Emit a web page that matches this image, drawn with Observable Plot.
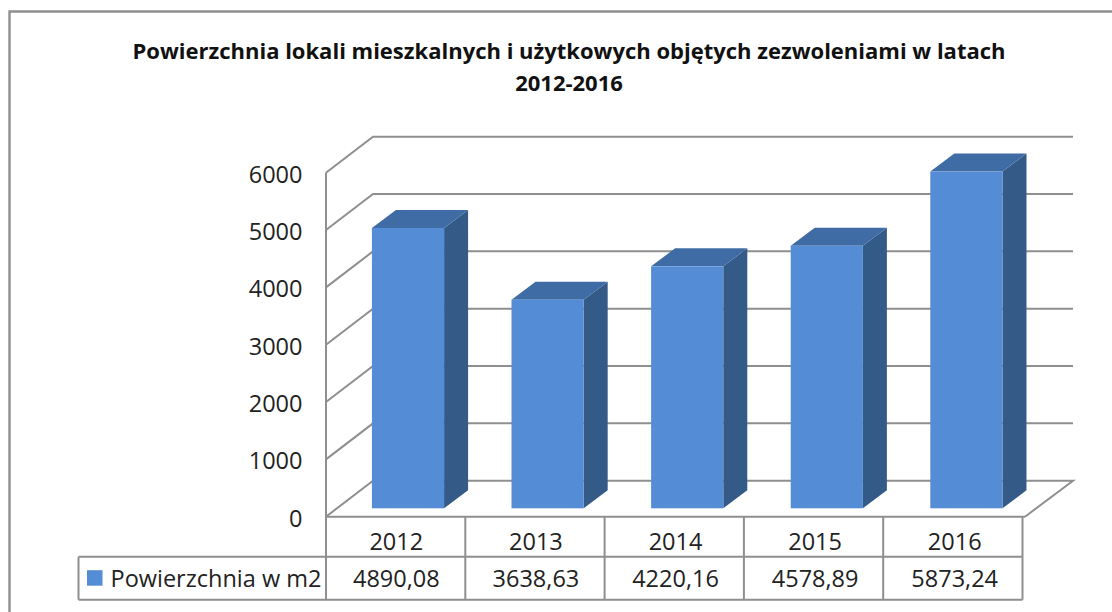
<!DOCTYPE html>
<html><head><meta charset="utf-8">
<script src="https://cdn.jsdelivr.net/npm/d3@7"></script>
<script src="https://cdn.jsdelivr.net/npm/@observablehq/plot@0.6"></script>
<style>
html,body{margin:0;padding:0;background:#fff;}
#wrap{position:relative;width:1112px;height:612px;overflow:hidden;font-family:"Open Sans",sans-serif;}
#title{position:absolute;left:0;top:34px;width:1138px;text-align:center;font-weight:700;font-size:22px;line-height:32px;color:#111;}
#chart svg{display:block;}
</style></head><body>
<div id="wrap">
<div id="chart"></div>
<div id="title">Powierzchnia lokali mieszkalnych i użytkowych objętych zezwoleniami w latach<br>2012-2016</div>
</div>
<script>
const years = ["2012","2013","2014","2015","2016"];
const values = [4890.08,3638.63,4220.16,4578.89,5873.24];
const yTicks = [0,1000,2000,3000,4000,5000,6000];
const seriesName = "Powierzchnia w m2";
const rows = years.map((year,i)=>({year,value:values[i]}));
const comma = v => v.toFixed(2).replace(".",",");

const GRID = "#8f8f8f", FRONT = "#558cd6", TOP = "#3f6ca5", SIDE = "#345a88";
const wall = {dx:47, dy:-36}, bar = {dx:12.2, dy:-8.4, ddx:24, ddy:-18};

function path(g, d, attrs){
  const p = g.append("path").attr("d", d);
  for (const k in attrs) p.attr(k, attrs[k]);
}
const line = {fill:"none", stroke:GRID, "stroke-width":2};

function wallsMark(index, {x, y}, values, dims){
  const g = d3.create("svg:g");
  const x0 = dims.marginLeft, x1 = dims.width - dims.marginRight;
  const back = 1073;
  for (const t of yTicks){
    const py = y(t);
    path(g, `M${x0},${py}L${x0+wall.dx},${py+wall.dy}L${back},${py+wall.dy}` + (t===0 ? `L${x1+1},${py}` : ""), line);
  }
  path(g, `M${x0},${y(6000)}V${y(0)}H${x1+1}`, line);
  return g.node();
}
function cubeMark(index, {x, y}){
  const g = d3.create("svg:g");
  const w = x.bandwidth();
  for (const r of rows){
    const l = x(r.year)+bar.dx, R = l+w, t = y(r.value)+bar.dy, b = y(0)+bar.dy;
    path(g, `M${R},${t}L${R+bar.ddx},${t+bar.ddy}V${b+bar.ddy}L${R},${b}Z`, {fill:SIDE});
    path(g, `M${l},${t}L${l+bar.ddx},${t+bar.ddy}H${R+bar.ddx}L${R},${t}Z`, {fill:TOP});
  }
  return g.node();
}
function tableMark(index, {x, y}, values, dims){
  const g = d3.create("svg:g");
  const x0 = dims.marginLeft, step = 139.3, top = y(0), mid = top+40, bot = top+83, leg = 78.5;
  for (let i=0;i<=years.length;i++){
    path(g, `M${x0+i*step},${top}V${bot}`, line);
  }
  path(g, `M${leg},${mid}H${x0+years.length*step}M${leg},${bot}H${x0+years.length*step}M${leg},${mid}V${bot}`, line);
  g.append("rect").attr("x",87).attr("y",mid+13.5).attr("width",15.5).attr("height",15.5).attr("fill",FRONT);
  return g.node();
}

const chart = Plot.plot({
  width:1112, height:612,
  marginLeft:326, marginRight:88, marginTop:172.7, marginBottom:95.3,
  style:{fontFamily:'"Open Sans",sans-serif', background:"#fff", color:"#222"},
  x:{domain:years, paddingInner:0.483, paddingOuter:0.2415, round:false, axis:null, label:null},
  y:{domain:[0,6000], label:null},
  marks:[
    () => { const g=d3.create("svg:g");
      path(g,"M9.5,612V11.5H1112",{fill:"none",stroke:GRID,"stroke-width":2.4}); return g.node(); },
    wallsMark,
    cubeMark,
    Plot.barY(rows,{x:"year",y:"value",fill:FRONT,dx:bar.dx,dy:bar.dy}),
    tableMark,
    Plot.axisY(yTicks,{tickSize:0,tickPadding:24,fontSize:23.5,dy:2,tickFormat:d=>String(d),label:null,fill:"#222"}),
    Plot.text(rows,{x:"year",text:"year",frameAnchor:"bottom",dy:33,fontSize:23.5,fill:"#222"}),
    Plot.text(rows,{x:"year",text:d=>comma(d.value),frameAnchor:"bottom",dy:70,fontSize:23.5,fill:"#222"}),
    Plot.text([seriesName],{frameAnchor:"bottom-left",dx:-216,dy:70,textAnchor:"start",fontSize:23.5,fill:"#222"})
  ]
});
document.getElementById("chart").appendChild(chart);
</script>
</body></html>
